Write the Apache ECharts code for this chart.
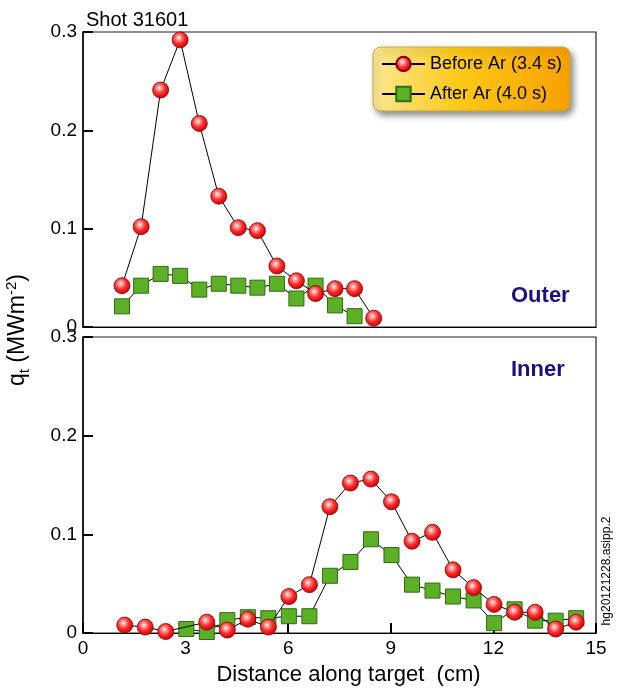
<!DOCTYPE html>
<html>
<head>
<meta charset="utf-8">
<script src="https://cdn.jsdelivr.net/npm/echarts@6/dist/echarts.min.js"></script>
<style>
html,body{margin:0;padding:0;background:#fff;}
#c{width:618px;height:689px;}
</style>
</head>
<body>
<div id="c"></div>
<script>
// ---- data ----
const seriesNames = ['Before Ar (3.4 s)', 'After Ar (4.0 s)'];
const xTicks = [0, 3, 6, 9, 12, 15];
const yTicks = [0, 0.1, 0.2, 0.3];

const outerBeforeX = [1.14, 1.70, 2.27, 2.84, 3.40, 3.97, 4.54, 5.10, 5.67, 6.24, 6.80, 7.37, 7.94, 8.50];
const outerBeforeY = [0.042, 0.102, 0.241, 0.292, 0.207, 0.133, 0.101, 0.098, 0.062, 0.047, 0.034, 0.039, 0.039, 0.009];
const outerAfterX  = [1.14, 1.70, 2.27, 2.84, 3.40, 3.97, 4.54, 5.10, 5.67, 6.24, 6.80, 7.37, 7.94];
const outerAfterY  = [0.021, 0.042, 0.054, 0.052, 0.038, 0.044, 0.042, 0.040, 0.044, 0.029, 0.042, 0.022, 0.011];

const innerBeforeX = [1.22, 1.82, 2.42, 3.62, 4.22, 4.82, 5.42, 6.02, 6.62, 7.22, 7.82, 8.42, 9.02, 9.62, 10.22, 10.82, 11.42, 12.02, 12.62, 13.22, 13.82, 14.42];
const innerBeforeY = [0.008, 0.006, 0.0015, 0.011, 0.003, 0.014, 0.006, 0.037, 0.049, 0.128, 0.152, 0.156, 0.133, 0.093, 0.102, 0.064, 0.046, 0.029, 0.021, 0.021, 0.004, 0.011];
const innerAfterX  = [3.02, 3.62, 4.22, 4.82, 5.42, 6.02, 6.62, 7.22, 7.82, 8.42, 9.02, 9.62, 10.22, 10.82, 11.42, 12.02, 12.62, 13.22, 13.82, 14.42];
const innerAfterY  = [0.004, 0.001, 0.013, 0.016, 0.015, 0.017, 0.017, 0.058, 0.072, 0.095, 0.079, 0.049, 0.043, 0.037, 0.033, 0.010, 0.024, 0.0125, 0.0125, 0.015];

// ---- build ----
const pairs = (xs, ys) => xs.map((x, i) => [x, ys[i]]);
const FONT = '"Liberation Sans", Arial, Helvetica, sans-serif';

const redFill = new echarts.graphic.RadialGradient(0.42, 0.38, 0.62, [
  {offset: 0, color: '#ffffff'},
  {offset: 0.22, color: '#ff9a9a'},
  {offset: 0.55, color: '#ff2b2b'},
  {offset: 1, color: '#c80000'}
]);
const redStyle = {color: redFill, borderColor: '#8a0000', borderWidth: 0.8};
const greenStyle = {color: '#5bb025', borderColor: '#2f6b12', borderWidth: 1};
const lineStyle = {color: '#000', width: 1};

function mkSeries(name, data, idx, red) {
  return {
    name: name, type: 'line', xAxisIndex: idx, yAxisIndex: idx,
    data: data,
    symbol: red ? 'circle' : 'rect',
    symbolSize: red ? 16 : 15,
    itemStyle: red ? redStyle : greenStyle,
    lineStyle: lineStyle,
    z: red ? 4 : 3,
    emphasis: {disabled: true}
  };
}

const yAxisBase = (idx) => ({
  gridIndex: idx, type: 'value', min: yTicks[0], max: yTicks[yTicks.length - 1], interval: 0.1,
  axisLine: {show: true, lineStyle: {color: '#000', width: 1.5}},
  axisTick: {show: true, inside: true, length: 10, lineStyle: {color: '#000', width: 2}},
  axisLabel: {fontSize: 19, color: '#000', fontFamily: FONT, margin: 6},
  splitLine: {show: false}
});

const option = {
  animation: false,
  backgroundColor: '#fff',
  title: [
    {text: 'Shot 31601', left: 81, top: 5, textStyle: {fontSize: 20, fontWeight: 'normal', color: '#000', fontFamily: FONT}},
    {text: 'Outer', left: 506, top: 280, textStyle: {fontSize: 22, fontWeight: 'bold', color: '#1b0f84', fontFamily: FONT}},
    {text: 'Inner', left: 506, top: 354, textStyle: {fontSize: 22, fontWeight: 'bold', color: '#1b0f84', fontFamily: FONT}}
  ],
  legend: {
    data: seriesNames,
    orient: 'vertical',
    left: 373, top: 47,
    padding: [8, 8, 8, 8],
    itemGap: 12,
    itemWidth: 43,
    itemHeight: 18,
    textStyle: {fontSize: 18, color: '#000', fontFamily: FONT},
    backgroundColor: new echarts.graphic.LinearGradient(0, 0, 1, 0, [
      {offset: 0, color: '#fbe992'},
      {offset: 0.45, color: '#fdc814'},
      {offset: 1, color: '#f8a000'}
    ]),
    borderColor: '#c9a64a',
    borderWidth: 1,
    borderRadius: 8,
    shadowBlur: 6,
    shadowOffsetX: 3,
    shadowOffsetY: 4,
    shadowColor: 'rgba(0,0,0,0.45)',
    selectedMode: false
  },
  grid: [
    {left: 83, top: 32, width: 513, height: 295, show: true, borderColor: '#222', borderWidth: 1.2, backgroundColor: 'transparent'},
    {left: 83, top: 337, width: 513, height: 296, show: true, borderColor: '#222', borderWidth: 1.2, backgroundColor: 'transparent'}
  ],
  xAxis: [
    {gridIndex: 0, type: 'value', min: xTicks[0], max: xTicks[xTicks.length - 1], interval: 3,
     axisLine: {show: true, lineStyle: {color: '#000', width: 1.2}},
     axisTick: {show: false}, axisLabel: {show: false}, splitLine: {show: false}},
    {gridIndex: 1, type: 'value', min: xTicks[0], max: xTicks[xTicks.length - 1], interval: 3,
     axisLine: {show: true, lineStyle: {color: '#000', width: 1.2}},
     axisTick: {show: true, inside: true, length: 10, lineStyle: {color: '#000', width: 2}},
     axisLabel: {fontSize: 19, color: '#000', fontFamily: FONT, margin: 6},
     splitLine: {show: false},
     name: 'Distance along target  (cm)', nameLocation: 'middle', nameGap: 31,
     nameTextStyle: {fontSize: 22, color: '#000', fontFamily: FONT, padding: [0, 0, 0, 18]}}
  ],
  yAxis: [yAxisBase(0), yAxisBase(1)],
  graphic: [
    {type: 'text', x: 18, y: 330, rotation: Math.PI / 2, z: 10,
     style: {
       text: '{a|q}{s|t}{a| (MWm}{p|-2}{a|)}',
       align: 'center', verticalAlign: 'middle', fill: '#000',
       rich: {
         a: {fontSize: 23, fontFamily: FONT, lineHeight: 28, fill: '#000'},
         s: {fontSize: 15, fontFamily: FONT, lineHeight: 15, verticalAlign: 'bottom', fill: '#000'},
         p: {fontSize: 15, fontFamily: FONT, lineHeight: 15, verticalAlign: 'top', fill: '#000'}
       }
     }},
    {type: 'text', x: 607, y: 571, rotation: Math.PI / 2, z: 10,
     style: {text: 'hg20121228.asipp.2', align: 'center', verticalAlign: 'middle', fontSize: 12, fontFamily: FONT, fill: '#000'}}
  ],
  series: [
    mkSeries(seriesNames[1], pairs(outerAfterX, outerAfterY), 0, false),
    mkSeries(seriesNames[0], pairs(outerBeforeX, outerBeforeY), 0, true),
    mkSeries(seriesNames[1], pairs(innerAfterX, innerAfterY), 1, false),
    mkSeries(seriesNames[0], pairs(innerBeforeX, innerBeforeY), 1, true)
  ]
};

const chart = echarts.init(document.getElementById('c'), null, {renderer: 'canvas'});
chart.setOption(option);
</script>
</body>
</html>
